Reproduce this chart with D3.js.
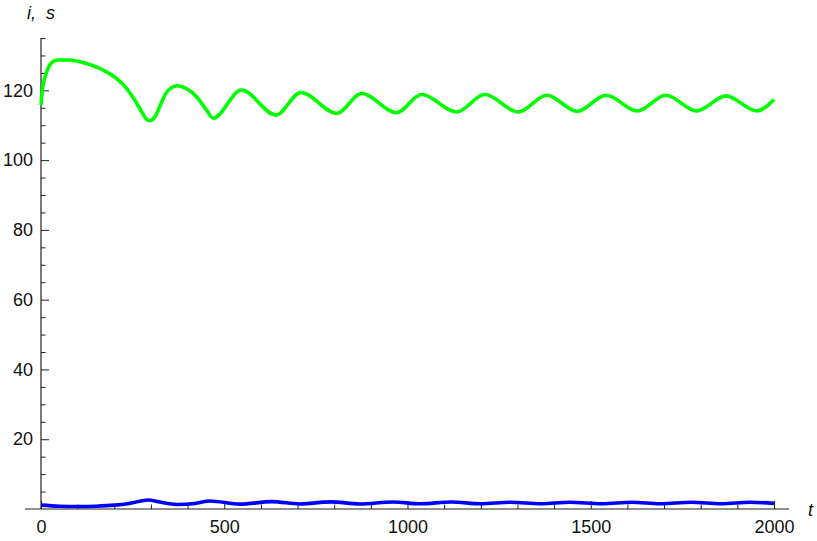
<!DOCTYPE html>
<html><head><meta charset="utf-8">
<script src="https://cdn.jsdelivr.net/npm/d3@7"></script>
<style>body{margin:0;background:#fff}svg{display:block}</style>
</head><body>
<script>
// ---- data ----
const tS = [0, 5, 14, 27, 45, 77, 123, 170, 206, 234, 256, 275, 288, 297, 311, 325, 340, 357, 372, 397, 425, 452, 470, 547, 641, 709, 807, 875, 970, 1039, 1134, 1211, 1302, 1380, 1463, 1542, 1627, 1705, 1789, 1869, 1953, 2000];
const sVals = [115.8, 121, 124.8, 127.7, 128.7, 128.7, 127.7, 125.8, 123.4, 120.5, 117.2, 113.8, 111.7, 111.3, 112.4, 115.6, 119.0, 120.8, 121.3, 120.5, 118.1, 114.3, 112.0, 120.1, 112.9, 119.4, 113.4, 119.1, 113.6, 118.8, 113.8, 118.8, 113.8, 118.6, 114.0, 118.6, 114.1, 118.6, 114.1, 118.4, 114.1, 117.4];
const tI = [0, 50, 100, 150, 200, 240, 270, 293, 320, 350, 372, 420, 461, 543, 630, 707, 790, 870, 960, 1034, 1120, 1200, 1280, 1365, 1443, 1530, 1612, 1690, 1775, 1855, 1935, 2000];
const iVals = [1.1, 0.8, 0.7, 0.8, 1.1, 1.6, 2.2, 2.6, 2.1, 1.5, 1.3, 1.6, 2.3, 1.4, 2.1, 1.45, 2.05, 1.45, 2.0, 1.5, 2.0, 1.5, 1.95, 1.5, 1.95, 1.5, 1.95, 1.5, 1.95, 1.5, 1.95, 1.6];
const xMajor = [0, 500, 1000, 1500, 2000];
const yMajor = [20, 40, 60, 80, 100, 120];
const xLabel = "t";
const yLabel = "i,  s";

const W = 817, H = 541;
const svg = d3.select("body").append("svg").attr("width", W).attr("height", H);
const x = d3.scaleLinear().domain([0, 2000]).range([41, 774]);
const y = d3.scaleLinear().domain([0, 135]).range([509, 38]);
const axisColor = "#222";
const font = "'Liberation Sans', Arial, sans-serif";

const xMinor = d3.range(100, 2001, 100).filter(v => !xMajor.includes(v));
const yMinor = d3.range(5, 136, 5).filter(v => !yMajor.includes(v));

// x axis
const gx = svg.append("g").attr("transform", `translate(0,${y(0)})`);
gx.call(d3.axisBottom(x).tickValues(xMajor).tickSize(-8).tickPadding(11).tickFormat(d3.format("d")));
gx.append("g").call(d3.axisBottom(x).tickValues(xMinor).tickSize(-4.5).tickFormat(""));
gx.selectAll(".domain").remove();
gx.selectAll("line").attr("stroke", axisColor);
gx.selectAll("text").attr("font-family", font).attr("font-size", 18).attr("fill", "#111");
svg.append("line").attr("x1", 25).attr("x2", 789).attr("y1", y(0)).attr("y2", y(0))
  .attr("stroke", axisColor).attr("stroke-width", 1.2);

// y axis
const gy = svg.append("g").attr("transform", `translate(${x(0)},0)`);
gy.call(d3.axisLeft(y).tickValues(yMajor).tickSize(-8).tickPadding(8).tickFormat(d3.format("d")));
gy.append("g").call(d3.axisLeft(y).tickValues(yMinor).tickSize(-4.5).tickFormat(""));
gy.selectAll(".domain").remove();
gy.selectAll("line").attr("stroke", axisColor);
gy.selectAll("text").attr("font-family", font).attr("font-size", 18).attr("fill", "#111");
svg.append("line").attr("x1", x(0)).attr("x2", x(0)).attr("y1", y(135)).attr("y2", y(0))
  .attr("stroke", axisColor).attr("stroke-width", 1.2);

// axis labels
svg.append("text").attr("x", 808).attr("y", 516).text(xLabel)
  .attr("font-family", font).attr("font-style", "italic").attr("font-size", 18).attr("fill", "#111");
svg.append("text").attr("x", 27).attr("y", 19).text(yLabel)
  .attr("font-family", font).attr("font-style", "italic").attr("font-size", 18).attr("fill", "#111")
  .style("white-space", "pre");

// series
const line = d3.line().curve(d3.curveMonotoneX).x(d => x(d[0])).y(d => y(d[1]));
svg.append("path").datum(tS.map((t, k) => [t, sVals[k]])).attr("d", line)
  .attr("fill", "none").attr("stroke", "rgb(0,255,0)").attr("stroke-width", 3.6).attr("stroke-linejoin", "round");
svg.append("path").datum(tI.map((t, k) => [t, iVals[k]])).attr("d", line)
  .attr("fill", "none").attr("stroke", "rgb(0,0,255)").attr("stroke-width", 3.6).attr("stroke-linejoin", "round");
</script>
</body></html>
